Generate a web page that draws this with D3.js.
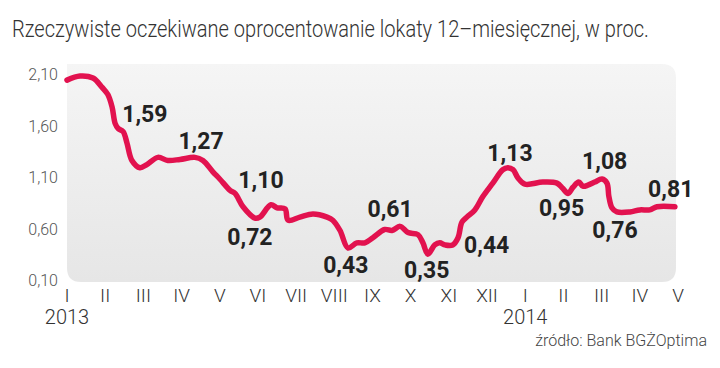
<!DOCTYPE html>
<html>
<head>
	<meta charset="utf-8">
	<style>
	body {
		margin: 0;
		background: #fff;
	}
	text {
		font-family: Roboto, "Noto Sans", sans-serif;
	}
	</style>
</head>
<body>
	<script src="https://d3js.org/d3.v7.min.js"></script>
	<script>
	// month index: 0 = January 2013
	var months = [0, 0.34, 0.68, 0.92, 1.07, 1.18, 1.26, 1.34, 1.47, 1.57, 1.70, 1.91, 2.09, 2.38, 2.64, 2.96,
		3.35, 3.56, 3.82, 4.00, 4.27, 4.40, 4.61, 4.92, 5.05, 5.34, 5.50, 5.71, 5.79, 6.10, 6.44, 6.81,
		6.96, 7.15, 7.36, 7.59, 7.80, 8.01, 8.32, 8.51, 8.72, 8.93, 9.19, 9.32, 9.45, 9.63, 9.76, 9.90,
		10.10, 10.24, 10.34, 10.47, 10.68, 10.89, 11.15, 11.41, 11.54, 11.68, 11.81, 11.99, 12.46, 12.83,
		12.98, 13.12, 13.25, 13.40, 13.51, 13.64, 13.82, 14.01, 14.14, 14.19, 14.27, 14.40, 14.74, 15.00,
		15.26, 15.45, 15.92];
	var values = [2.06, 2.10, 2.08, 1.99, 1.92, 1.80, 1.64, 1.59, 1.56, 1.45, 1.28, 1.21, 1.24, 1.31, 1.28, 1.29,
		1.31, 1.28, 1.17, 1.10, 0.99, 0.96, 0.83, 0.72, 0.73, 0.85, 0.82, 0.81, 0.70, 0.73, 0.76, 0.73,
		0.70, 0.60, 0.43, 0.48, 0.48, 0.53, 0.61, 0.60, 0.64, 0.58, 0.56, 0.48, 0.37, 0.46, 0.48, 0.46,
		0.46, 0.53, 0.68, 0.73, 0.80, 0.93, 1.06, 1.19, 1.21, 1.19, 1.11, 1.05, 1.07, 1.06,
		1.01, 0.96, 1.02, 1.07, 1.03, 1.04, 1.07, 1.10, 1.06, 0.93, 0.82, 0.78, 0.78, 0.80,
		0.80, 0.83, 0.83];

	var yTicks = [0.10, 0.60, 1.10, 1.60, 2.10];
	var monthLabels = ["I", "II", "III", "IV", "V", "VI", "VII", "VIII", "IX", "X", "XI", "XII", "I", "II", "III", "IV", "V"];
	var yearLabels = ["2013", "2014"];
	var yearMonths = [0, 12];

	// value annotations, anchored in data coordinates (month, value)
	var labelText = ["1,59", "1,27", "1,10", "0,72", "0,43", "0,61", "0,35", "0,44", "1,13", "0,95", "1,08", "0,76", "0,81"];
	var labelMonth = [2.04, 3.51, 5.08, 4.79, 7.30, 8.46, 9.42, 10.99, 11.60, 12.95, 14.08, 14.35, 15.81];
	var labelValue = [1.65, 1.39, 1.01, 0.46, 0.19, 0.73, 0.14, 0.38, 1.27, 0.74, 1.20, 0.53, 0.93];

	var title = "Rzeczywiste oczekiwane oprocentowanie lokaty 12\u2013miesięcznej, w proc.";
	var source = "źródło: Bank BGŻOptima";

	var width = 720, height = 368;
	var red = "#e2124f";

	var svg = d3.select("body").append("svg")
		.attr("width", width)
		.attr("height", height);

	var x = d3.scaleLinear().domain([0, 16]).range([67, 678]);
	var y = d3.scaleLinear().domain([0.10, 2.10]).range([282, 76]);

	// squeeze a text horizontally to a given width (the source font is condensed)
	function fitWidth(sel, w, anchorX){
		var len = sel.node().getComputedTextLength();
		var k = w / len;
		sel.attr("transform", "translate(" + anchorX + ",0) scale(" + k + ",1) translate(" + (-anchorX) + ",0)");
	}

	// background panel
	var grad = svg.append("defs").append("linearGradient")
		.attr("id", "bg")
		.attr("x1", 0).attr("y1", 0).attr("x2", 0).attr("y2", 1);
	grad.append("stop").attr("offset", "0%").attr("stop-color", "#f5f5f5");
	grad.append("stop").attr("offset", "100%").attr("stop-color", "#e6e6e6");

	var bx0 = x(0), bx1 = 676, by0 = y(2.10) - 12, by1 = y(0.10), r = 14;
	svg.append("path")
		.attr("d", "M" + bx0 + "," + by0 +
			"H" + (bx1 - r) + "Q" + bx1 + "," + by0 + " " + bx1 + "," + (by0 + r) +
			"V" + (by1 - r) + "Q" + bx1 + "," + by1 + " " + (bx1 - r) + "," + by1 +
			"H" + (bx0 + r) + "Q" + bx0 + "," + by1 + " " + bx0 + "," + (by1 - r) + "Z")
		.attr("fill", "url(#bg)");

	// title
	var t = svg.append("text")
		.attr("x", 12)
		.attr("y", 37)
		.style("font-size", "24px")
		.style("font-weight", 300)
		.style("fill", "#333")
		.text(title);
	fitWidth(t, 637, 12);

	// y axis labels
	svg.selectAll(".ytick")
		.data(yTicks)
		.enter().append("text")
		.attr("class", "ytick")
		.attr("x", 58)
		.attr("y", function(d){ return y(d) + 4; })
		.attr("text-anchor", "end")
		.style("font-size", "16px")
		.style("font-weight", 300)
		.style("fill", "#555")
		.text(function(d){ return d3.format(".2f")(d).replace(".", ","); });

	// x axis labels
	svg.selectAll(".xtick")
		.data(monthLabels)
		.enter().append("text")
		.attr("class", "xtick")
		.attr("x", function(d, i){ return x(i); })
		.attr("y", 302)
		.attr("text-anchor", "middle")
		.style("font-size", "19px")
		.style("font-weight", 300)
		.style("fill", "#333")
		.text(function(d){ return d; });

	svg.selectAll(".year")
		.data(yearLabels)
		.enter().append("text")
		.attr("class", "year")
		.attr("x", function(d, i){ return x(yearMonths[i]); })
		.attr("y", 324)
		.attr("text-anchor", "middle")
		.style("font-size", "20px")
		.style("font-weight", 300)
		.style("fill", "#333")
		.text(function(d){ return d; });

	// line
	var line = d3.line()
		.x(function(d, i){ return x(months[i]); })
		.y(function(d){ return y(d); })
		.curve(d3.curveCatmullRom.alpha(0.5));

	svg.append("path")
		.datum(values)
		.attr("d", line)
		.attr("fill", "none")
		.attr("stroke", red)
		.attr("stroke-width", 5.5)
		.attr("stroke-linecap", "round")
		.attr("stroke-linejoin", "round");

	// annotations
	svg.selectAll(".lbl")
		.data(labelText)
		.enter().append("text")
		.attr("class", "lbl")
		.attr("x", function(d, i){ return x(labelMonth[i]); })
		.attr("y", function(d, i){ return y(labelValue[i]); })
		.attr("text-anchor", "middle")
		.style("font-size", "23px")
		.style("font-weight", 700)
		.style("fill", "#222")
		.text(function(d){ return d; });

	// source
	var s = svg.append("text")
		.attr("x", 707)
		.attr("y", 346)
		.attr("text-anchor", "end")
		.style("font-size", "17px")
		.style("font-weight", 300)
		.style("fill", "#444")
		.text(source);
	fitWidth(s, 172, 707);
	</script>
</body>
</html>
